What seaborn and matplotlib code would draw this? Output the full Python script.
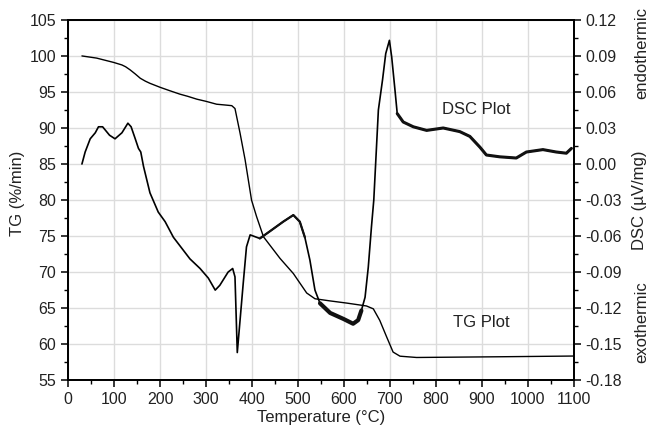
import numpy as np
import pandas as pd
import matplotlib
matplotlib.use("Agg")
import matplotlib.pyplot as plt
from matplotlib.ticker import MultipleLocator, FormatStrFormatter
import seaborn as sns

# ==========================================
# data
# ==========================================
tg_temp = [30, 62, 99, 117, 125, 135, 146, 157, 168, 178, 190, 200, 220, 243,
           260, 280, 300, 323, 340, 356, 363, 374, 385, 392, 399, 410, 425,
           461, 490, 519, 537, 570, 606, 649, 664, 678, 693, 707, 722, 758,
           940, 1100]
tg_val = [100.0, 99.7, 99.1, 98.75, 98.5, 98.06, 97.5, 96.9, 96.5, 96.2, 95.9,
          95.65, 95.2, 94.7, 94.4, 94.0, 93.7, 93.3, 93.2, 93.1, 92.7, 89.3,
          85.6, 82.8, 80.0, 77.7, 74.9, 71.9, 69.8, 67.1, 66.3, 66.0, 65.7,
          65.3, 64.9, 63.3, 61.0, 58.9, 58.33, 58.15, 58.25, 58.35]

dsc_temp = [30, 37, 48, 59, 66, 75, 90, 102, 117, 130, 137, 146, 153, 158, 164,
            178, 196, 211, 229, 247, 265, 287, 305, 320, 330, 348, 358, 363,
            368, 381, 388, 396, 417, 439, 468, 490, 504, 515, 526, 537, 548,
            570, 599, 620, 631, 638, 646, 653, 660, 665, 675, 684, 691, 699,
            704, 711, 716, 729, 751, 780, 816, 852, 874, 896, 910, 939, 975,
            997, 1033, 1062, 1084, 1095]
dsc_val = [0.0, 0.010, 0.021, 0.026, 0.031, 0.031, 0.024, 0.021, 0.026, 0.034,
           0.031, 0.021, 0.013, 0.010, -0.002, -0.024, -0.040, -0.048, -0.061,
           -0.070, -0.079, -0.087, -0.095, -0.105, -0.101, -0.090, -0.087,
           -0.094, -0.157, -0.099, -0.069, -0.059, -0.062, -0.056, -0.048,
           -0.0425, -0.048, -0.061, -0.080, -0.105, -0.116, -0.124, -0.129,
           -0.133, -0.130, -0.122, -0.111, -0.086, -0.052, -0.030, 0.045,
           0.070, 0.092, 0.103, 0.089, 0.062, 0.042, 0.035, 0.031, 0.028,
           0.030, 0.027, 0.023, 0.014, 0.0075, 0.006, 0.005, 0.010, 0.012,
           0.010, 0.009, 0.013]

tg_df = pd.DataFrame({'temp': tg_temp, 'tg': tg_val})
dsc_df = pd.DataFrame({'temp': dsc_temp, 'dsc': dsc_val})

# 雜訊帶的視覺寬度 (只是線寬樣式)
noise_bands = [(400, 515, 1.6), (540, 640, 3.0), (716, 1100, 2.2)]

sns.set_theme(style="ticks")
plt.rcParams['font.family'] = ['Liberation Sans', 'DejaVu Sans']
plt.rcParams['axes.unicode_minus'] = False

fig, ax = plt.subplots(figsize=(6.49, 4.33), dpi=100)
fig.subplots_adjust(left=0.105, right=0.884, top=0.954, bottom=0.122)
ax2 = ax.twinx()

# --- TG (left axis) ---
sns.lineplot(data=tg_df, x='temp', y='tg', ax=ax, color='black', lw=1.0,
             estimator=None, sort=False)

# --- DSC (right axis) ---
sns.lineplot(data=dsc_df, x='temp', y='dsc', ax=ax2, color='black', lw=1.2,
             estimator=None, sort=False)
for t0, t1, w in noise_bands:
    seg = dsc_df[(dsc_df['temp'] >= t0) & (dsc_df['temp'] <= t1)]
    sns.lineplot(data=seg, x='temp', y='dsc', ax=ax2, color='#111111', lw=w,
                 estimator=None, sort=False, solid_capstyle='round',
                 solid_joinstyle='round')

ax.set_xlim(0, 1100)
ax.set_ylim(55, 105)
ax2.set_ylim(-0.18, 0.12)

ax.xaxis.set_major_locator(MultipleLocator(100))
ax.xaxis.set_minor_locator(MultipleLocator(50))
ax.yaxis.set_major_locator(MultipleLocator(5))
ax.yaxis.set_minor_locator(MultipleLocator(2.5))
ax2.yaxis.set_major_locator(MultipleLocator(0.03))
ax2.yaxis.set_minor_locator(MultipleLocator(0.015))
ax2.yaxis.set_major_formatter(FormatStrFormatter('%.2f'))

ax.grid(True, which='major', color='#dcdcdc', lw=1.0)
ax.set_axisbelow(True)

for a in (ax, ax2):
    a.tick_params(which='major', direction='out', length=5, width=1.1,
                  labelsize=11.5, color='black', labelcolor='#222222')
    a.tick_params(which='minor', direction='out', length=3, width=1.0,
                  color='black')
    for s in a.spines.values():
        s.set_color('black')
        s.set_linewidth(1.3)

ax.set_xlabel('Temperature (°C)', fontsize=12, color='#222222', labelpad=2)
ax.set_ylabel('TG (%/min)', fontsize=12, color='#222222')
ax.yaxis.set_label_coords(-0.085, 0.52)
ax2.set_ylabel('DSC (µV/mg)', fontsize=12, color='#222222')
ax2.yaxis.set_label_coords(1.115, 0.5)

ax.text(887, 92.5, 'DSC Plot', fontsize=12, color='#222222',
        ha='center', va='center')
ax.text(900, 63.05, 'TG Plot', fontsize=12, color='#222222',
        ha='center', va='center')
ax2.text(1.134, 0.908, 'endothermic', transform=ax2.transAxes, rotation=90,
         fontsize=12, color='#222222', ha='center', va='center')
ax2.text(1.134, 0.161, 'exothermic', transform=ax2.transAxes, rotation=90,
         fontsize=12, color='#222222', ha='center', va='center')

plt.savefig('out.png', dpi=100)
